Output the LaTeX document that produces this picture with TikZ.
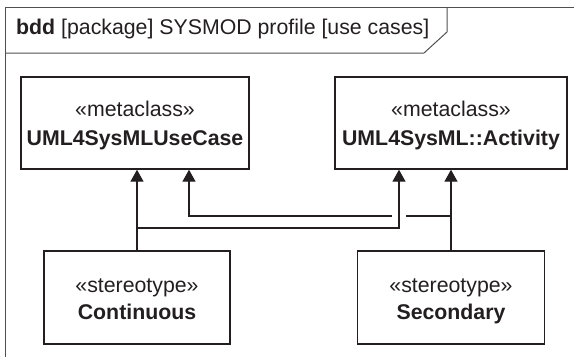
\documentclass[tikz,border=0pt]{standalone}
\usepackage{fontspec}
\setmainfont{Liberation Sans}
\usetikzlibrary{arrows.meta}
\definecolor{ink}{HTML}{231F20}
\definecolor{framec}{HTML}{505050}
\newcommand{\topstrut}{\rule{0pt}{21pt}}
\newcommand{\botstrut}{\rule[-5pt]{0pt}{5pt}}
\begin{document}
\begin{tikzpicture}[x=1pt,y=-1pt,
  blockbox/.style={draw=ink, line width=1.4pt, text=ink, align=center, inner sep=0pt},
  topbox/.style={blockbox, minimum height=92pt, font=\fontsize{21.3}{29}\selectfont},
  botbox/.style={blockbox, minimum height=93pt, font=\fontsize{21.3}{27}\selectfont},
  gen/.style={draw=ink, line width=1.4pt, -{Triangle[length=12pt,width=13pt]}},
  plainline/.style={draw=ink, line width=1.4pt},
  frameline/.style={draw=framec, line width=1pt}]
\useasboundingbox (0,0) rectangle (574,357);
% frame
\draw[frameline] (5,357) -- (5,7) -- (574,7);
\draw[frameline] (5,53) -- (424,53) -- (447,32) -- (447,7);
\node[anchor=base west, inner sep=0pt, text=ink, font=\fontsize{21.3}{25}\selectfont] (title) at (16,34.3)
  {\textbf{bdd} [package] SYSMOD profile [use cases]};
% blocks
\node[topbox, minimum width=228pt] (A) at (135,123)
  {\topstrut«metaclass»\\\textbf{UML4SysMLUseCase}\botstrut};
\node[topbox, minimum width=232pt] (B) at (451,123)
  {\topstrut«metaclass»\\\textbf{UML4SysML::Activity}\botstrut};
\node[botbox, minimum width=186pt] (C) at (137,297.5)
  {\topstrut«stereotype»\\\textbf{Continuous}\botstrut};
\node[botbox, minimum width=187pt] (D) at (451,297.5)
  {\topstrut«stereotype»\\\textbf{Secondary}\botstrut};
% helper coordinates
\coordinate (x1) at (189,0);
\coordinate (x2) at (399,0);
\coordinate (yL) at (0,228);
\coordinate (yU) at (0,216);
\coordinate (gR) at (406,216);
\coordinate (gL) at (392,216);
% generalizations
\draw[gen] (C.north) -- (C.north |- A.south);
\draw[gen] (C.north |- yL) -- (x2 |- yL) -- (x2 |- B.south);
\draw[gen] (D.north) -- (D.north |- B.south);
\draw[plainline] (D.north |- yU) -- (gR);
\draw[gen] (gL) -- (x1 |- yU) -- (x1 |- A.south);
\end{tikzpicture}
\end{document}
